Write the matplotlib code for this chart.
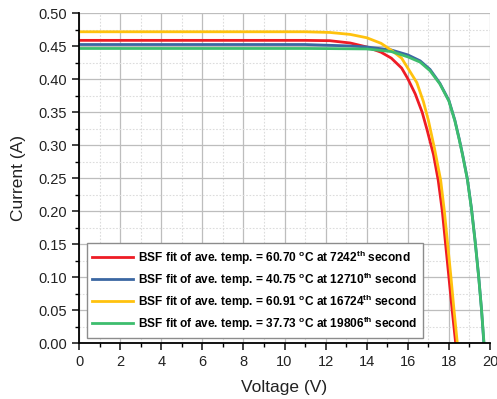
import matplotlib
matplotlib.use("Agg")
import matplotlib.pyplot as plt
from matplotlib.ticker import MultipleLocator, FormatStrFormatter

plt.rcParams['font.family'] = ['Liberation Sans', 'DejaVu Sans']
plt.rcParams['mathtext.fontset'] = 'custom'
plt.rcParams['mathtext.rm'] = 'Liberation Sans'
plt.rcParams['mathtext.bf'] = 'Liberation Sans:bold'

# ---- data ----
v_red = [0, 11, 12.2, 13.2, 14.0, 14.7, 15.2, 15.7, 16.0, 16.36, 16.7, 16.95,
         17.25, 17.48, 17.68, 17.84, 18.0, 18.16, 18.33]
i_red = [0.459, 0.459, 0.4585, 0.455, 0.449, 0.441, 0.432, 0.417, 0.401, 0.378,
         0.350, 0.322, 0.286, 0.247, 0.200, 0.150, 0.100, 0.050, 0.0]

v_blue = [0, 11, 12.2, 13.2, 14.0, 15.2, 16.0, 16.6, 17.08, 17.56, 18.0, 18.29,
          18.5, 18.66, 18.9, 19.1, 19.28, 19.45, 19.59, 19.70]
i_blue = [0.4527, 0.4527, 0.4515, 0.4505, 0.449, 0.4444, 0.437, 0.428, 0.415,
          0.394, 0.368, 0.338, 0.310, 0.287, 0.249, 0.204, 0.154, 0.101, 0.050, 0.0]

v_yel = [0, 11, 12.2, 13.2, 14.0, 14.7, 15.2, 15.7, 16.0, 16.44, 16.76, 17.0,
         17.3, 17.6, 17.78, 17.94, 18.1, 18.25, 18.41]
i_yel = [0.472, 0.472, 0.471, 0.468, 0.463, 0.4545, 0.444, 0.432, 0.417, 0.395,
         0.366, 0.338, 0.295, 0.247, 0.200, 0.150, 0.100, 0.050, 0.0]

v_grn = [0, 11, 12.2, 14.0, 15.2, 16.0, 16.6, 17.08, 17.56, 18.0, 18.29, 18.5,
         18.66, 18.9, 19.1, 19.28, 19.45, 19.59, 19.71]
i_grn = [0.4467, 0.4467, 0.4465, 0.446, 0.442, 0.434, 0.426, 0.413, 0.393, 0.367,
         0.337, 0.309, 0.286, 0.248, 0.203, 0.153, 0.100, 0.050, 0.0]

labels = [
    r"BSF fit of ave. temp. = 60.70 $^{\mathbf{o}}$C at 7242$^{\mathbf{th}}$ second",
    r"BSF fit of ave. temp. = 40.75 $^{\mathbf{o}}$C at 12710$^{\mathbf{th}}$ second",
    r"BSF fit of ave. temp. = 60.91 $^{\mathbf{o}}$C at 16724$^{\mathbf{th}}$ second",
    r"BSF fit of ave. temp. = 37.73 $^{\mathbf{o}}$C at 19806$^{\mathbf{th}}$ second",
]
colors = ["#ee1c25", "#3b67a2", "#ffc20e", "#3dbd6e"]

fig = plt.figure(figsize=(4.97, 3.99), dpi=100)
ax = fig.add_axes([79/497, 1-343.3/399, (490-79)/497, (343.3-13.3)/399])

series = [(v_red, i_red), (v_blue, i_blue), (v_yel, i_yel), (v_grn, i_grn)]
for (v, i), c, lab in zip(series, colors, labels):
    ax.plot(v, i, color=c, lw=2.0, label=lab, solid_joinstyle='round')

ax.set_xlim(0, 20)
ax.set_ylim(0, 0.50)
ax.xaxis.set_major_locator(MultipleLocator(2))
ax.xaxis.set_minor_locator(MultipleLocator(1))
ax.yaxis.set_major_locator(MultipleLocator(0.05))
ax.yaxis.set_minor_locator(MultipleLocator(0.025))
ax.yaxis.set_major_formatter(FormatStrFormatter('%.2f'))

ax.grid(which='major', color='#bdbdbd', lw=0.9, ls='-')
ax.grid(which='minor', color='#dcdcdc', lw=0.8, ls=(0, (1.5, 1.5)))
ax.set_axisbelow(True)

for s in ['top', 'right']:
    ax.spines[s].set_visible(False)
for s in ['left', 'bottom']:
    ax.spines[s].set_linewidth(1.3)
ax.tick_params(which='major', direction='out', length=5, width=1.2, labelsize=10.5,
               colors='#222222')
ax.tick_params(which='minor', direction='out', length=3, width=1.0)

ax.set_xlabel('Voltage (V)', fontsize=12.5, labelpad=8, color='#222222')
ax.set_ylabel('Current (A)', fontsize=12.5, labelpad=9, color='#222222')

leg = ax.legend(loc='lower left', bbox_to_anchor=(0.0195, 0.016), borderaxespad=0,
                prop={'weight': 'bold', 'size': 8.6}, handlelength=3.4,
                handletextpad=0.4, labelspacing=0.32, borderpad=0.45,
                fancybox=False, framealpha=1, edgecolor='#8c8c8c')
leg.get_frame().set_linewidth(1.0)
for line in leg.get_lines():
    line.set_linewidth(2.0)

fig.savefig('out.png', dpi=100)
